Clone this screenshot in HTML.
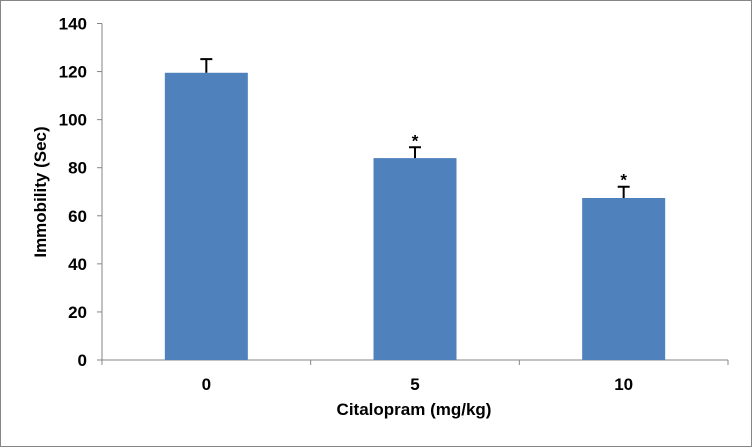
<!DOCTYPE html>
<html><head><meta charset="utf-8"><style>
html,body{margin:0;padding:0;background:#fff}
svg{display:block}
text{font-family:"Liberation Sans",Arial,sans-serif;font-weight:bold;fill:#000}
</style></head><body>
<svg id="chart" width="752" height="447">
<rect x="0.5" y="0.5" width="751" height="446" fill="#fff" stroke="#868686"/>
<g id="g"></g>
</svg>
<script>
const categories = ["0","5","10"];
const values = [119.5, 84, 67.4];
const errors = [5.7, 4.5, 4.7];
const signif = [false, true, true];
const yTicks = [0,20,40,60,80,100,120,140];

const X0=102, X1=728, Y0=360, Y1=23.5, YMAX=140;
const band=(X1-X0)/categories.length;
const y=v=>Y0-(v/YMAX)*(Y0-Y1);
const xc=i=>X0+band*(i+0.5);
const NS="http://www.w3.org/2000/svg";
const g=document.getElementById('g');
function mk(t,a,txt){const e=document.createElementNS(NS,t);for(const k in a)e.setAttribute(k,a[k]);if(txt!==undefined)e.textContent=txt;g.appendChild(e);return e;}

let ax=mk('line',{x1:X0,y1:Y1,x2:X0,y2:Y0,stroke:'#868686','stroke-width':1});


yTicks.forEach(v=>{
  const t=mk('line',{x1:X0-5,y1:y(v),x2:X0,y2:y(v),stroke:'#868686'});
  
  
  const l=mk('text',{x:X0-15,y:y(v)+6,'text-anchor':'end','font-size':17},String(v));
  
  
});
let xa=mk('line',{x1:X0,y1:Y0,x2:X1,y2:Y0,stroke:'#868686'});


for(let i=0;i<=categories.length;i++){
  const t=mk('line',{x1:X0+band*i,y1:Y0,x2:X0+band*i,y2:Y0+5,stroke:'#868686'});
  
  
}
const bw=83;
categories.forEach((c,i)=>{
  const r=mk('rect',{x:xc(i)-bw/2,y:y(values[i]),width:bw,height:Y0-y(values[i]),fill:'#4f81bd'});
  
  
  const top=y(values[i]+errors[i]);
  const e=mk('path',{d:`M${xc(i)} ${y(values[i])}V${top}M${xc(i)-6} ${top}H${xc(i)+6}`,stroke:'#000','stroke-width':2,fill:'none'});
  
  
  if(signif[i]){
    const s=mk('text',{x:xc(i),y:top-1,'text-anchor':'middle','font-size':17},'*');
    
    
  }
  const l=mk('text',{x:xc(i),y:Y0+30,'text-anchor':'middle','font-size':17},c);
  
  
});
const xt=mk('text',{x:414,y:415,'text-anchor':'middle','font-size':17},'Citalopram (mg/kg)');


const yt=mk('text',{x:0,y:0,'text-anchor':'middle','font-size':17,transform:'translate(46,192) rotate(-90)'},'Immobility (Sec)');


</script>
</body></html>
